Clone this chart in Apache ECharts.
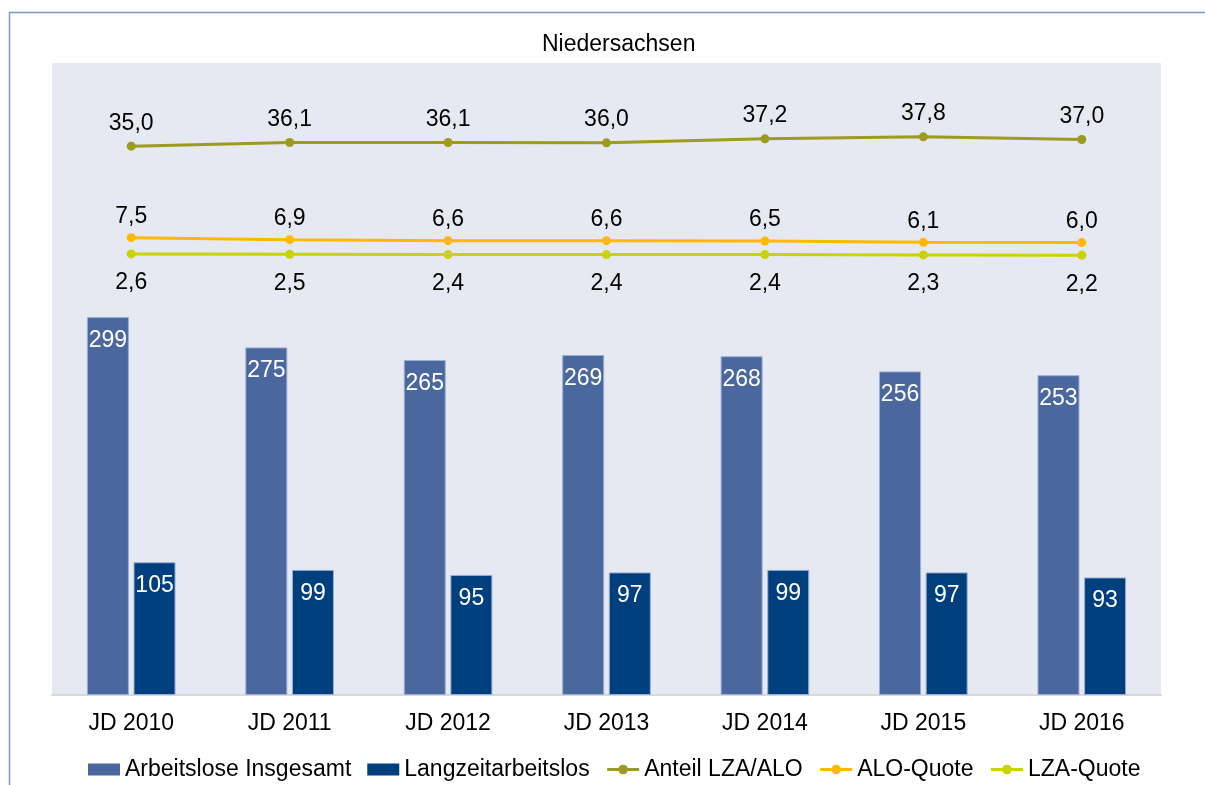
<!DOCTYPE html>
<html>
<head>
<meta charset="utf-8">
<script src="https://cdn.jsdelivr.net/npm/echarts@6/dist/echarts.min.js"></script>
<style>
html,body{margin:0;padding:0;background:#fff;}
#chart{width:1205px;height:785px;}
</style>
</head>
<body>
<div id="chart"></div>
<script>
var categories = ['JD 2010','JD 2011','JD 2012','JD 2013','JD 2014','JD 2015','JD 2016'];
var arbeitsloseInsgesamt = [299, 275, 265, 269, 268, 256, 253];
var langzeitarbeitslos = [105, 99, 95, 97, 99, 97, 93];
var anteilLzaAlo = [35.0, 36.1, 36.1, 36.0, 37.2, 37.8, 37.0];
var aloQuote = [7.5, 6.9, 6.6, 6.6, 6.5, 6.1, 6.0];
var lzaQuote = [2.6, 2.5, 2.4, 2.4, 2.4, 2.3, 2.2];
var titleText = 'Niedersachsen';

var FONT = '"Liberation Sans", Arial, sans-serif';
var FS = 23;
function fmt1(p){ return p.value.toFixed(1).replace('.', ','); }

var chart = echarts.init(document.getElementById('chart'), null, {renderer:'canvas'});
var lineLabel = function(pos, dist){
  return {show:true, position:pos, distance:dist, color:'#000', fontSize:FS, fontFamily:FONT, formatter:fmt1};
};
var option = {
  animation:false,
  backgroundColor:'#fff',
  graphic:[{
    type:'rect', z:-10, silent:true,
    shape:{x:9.5, y:12.5, width:1400, height:1000},
    style:{fill:null, stroke:'#7f96c4', lineWidth:1.5}
  }],
  title:{
    text:titleText, left:537, top:28,
    textStyle:{fontSize:FS, fontWeight:'normal', color:'#000', fontFamily:FONT}
  },
  legend:{
    top:753, left:83,
    itemWidth:32, itemHeight:12, itemGap:16,
    itemStyle:{borderWidth:0},
    lineStyle:{width:3},
    textStyle:{fontSize:FS, color:'#000', fontFamily:FONT},
    data:[
      {name:'Arbeitslose Insgesamt', icon:'rect'},
      {name:'Langzeitarbeitslos', icon:'rect'},
      'Anteil LZA/ALO','ALO-Quote','LZA-Quote'
    ]
  },
  grid:{left:52, right:44, top:63, bottom:90, show:true, backgroundColor:'#e6e9f1', borderWidth:0},
  xAxis:{
    type:'category', data:categories,
    axisTick:{show:false},
    axisLine:{lineStyle:{color:'#d6d8dc', width:2}},
    axisLabel:{fontSize:FS, color:'#000', fontFamily:FONT, margin:17}
  },
  yAxis:[
    {type:'value', min:0, max:500, show:false, splitLine:{show:false}},
    {type:'value', min:-130, max:60, show:false, splitLine:{show:false}}
  ],
  series:[
    {name:'Arbeitslose Insgesamt', type:'bar', data:arbeitsloseInsgesamt, barWidth:42, barGap:'11%',
     itemStyle:{color:'#4a679e', borderColor:'#9aaed3', borderWidth:1},
     label:{show:true, position:'insideTop', distance:12, color:'#fff', fontSize:FS, fontFamily:FONT}},
    {name:'Langzeitarbeitslos', type:'bar', data:langzeitarbeitslos, barWidth:42, barGap:'11%',
     itemStyle:{color:'#003f7d', borderColor:'#9aaed3', borderWidth:1},
     label:{show:true, position:'insideTop', distance:12, color:'#fff', fontSize:FS, fontFamily:FONT}},
    {name:'Anteil LZA/ALO', type:'line', yAxisIndex:1, data:anteilLzaAlo,
     symbol:'circle', symbolSize:9, lineStyle:{width:3, color:'#9a9b1f'}, itemStyle:{color:'#9a9b1f'},
     label:lineLabel('top', 7)},
    {name:'ALO-Quote', type:'line', yAxisIndex:1, data:aloQuote,
     symbol:'circle', symbolSize:9, lineStyle:{width:3, color:'#ffb900'}, itemStyle:{color:'#ffb900'},
     label:lineLabel('top', 5)},
    {name:'LZA-Quote', type:'line', yAxisIndex:1, data:lzaQuote,
     symbol:'circle', symbolSize:9, lineStyle:{width:3, color:'#c8d300'}, itemStyle:{color:'#c8d300'},
     label:lineLabel('bottom', 13)}
  ]
};
chart.setOption(option);
</script>
</body>
</html>
